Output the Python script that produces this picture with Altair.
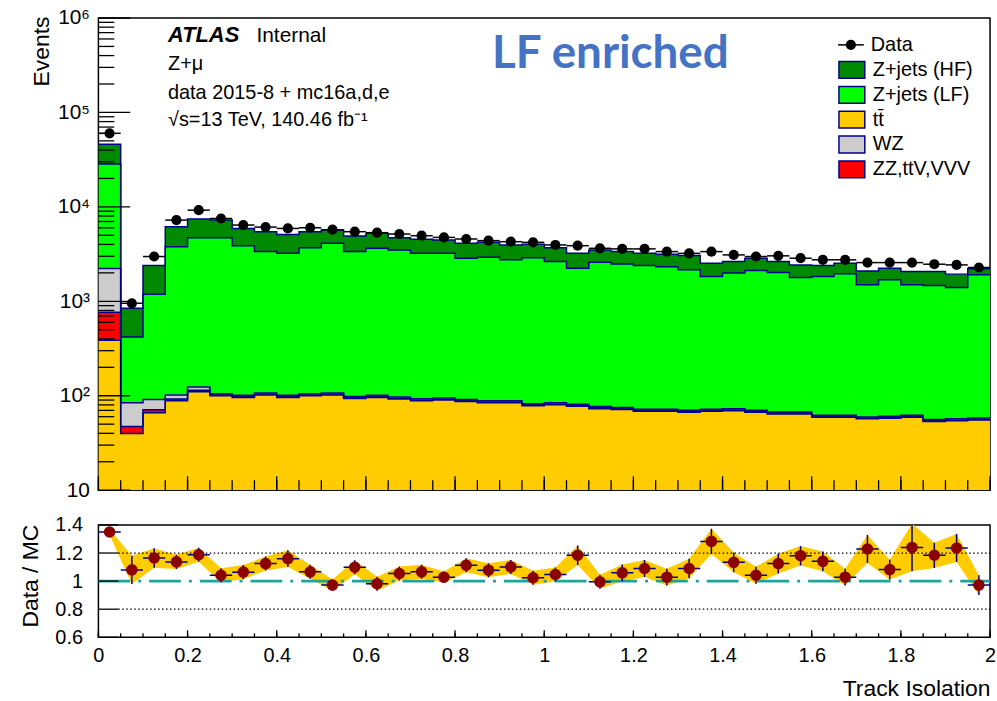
import altair as alt
import numpy as np
import pandas as pd

# ---------------- data ----------------
BIN_W = 0.05
N_BINS = 40

data_counts = [60100, 953, 2980, 7240, 9230, 7530, 6420, 6110, 5910, 6010,
               5730, 5460, 5330, 5160, 4950, 4750, 4570, 4390, 4280, 4210,
               3950, 3880, 3640, 3590, 3590, 3360, 3220, 3360, 3100, 2980,
               3030, 2860, 2750, 2750, 2570, 2570, 2570, 2470, 2430, 2280]

ttbar = [388, 39.8, 66.2, 88.6, 110, 100, 96, 102, 96, 100,
         102, 93.7, 96, 92.3, 88.6, 89.9, 87.1, 84.4, 84.4, 78.5,
         80.3, 77.4, 73, 71.4, 68.4, 68.4, 66.7, 68.4, 69.4, 66.7,
         64.2, 64.2, 59.1, 59.1, 56.9, 57.7, 59.1, 53.2, 54.4, 55.2]

zz_ttv_vvv = [378, 7.4, 4.8, 3.5, 4, 2, 2, 2, 2, 2,
              2, 1.9, 2, 1.8, 1.8, 1.8, 1.7, 1.7, 1.7, 1.6,
              1.6, 1.5, 1.5, 1.4, 1.4, 1.4, 1.3, 1.4, 1.4, 1.3,
              1.3, 1.3, 1.2, 1.2, 1.1, 1.2, 1.2, 1.1, 1.1, 1.1]

wz = [1454, 37.2, 20, 10, 10, 3, 3, 3, 3, 3,
      3, 2.8, 3, 2.8, 2.7, 2.7, 2.6, 2.5, 2.5, 2.4,
      2.4, 2.3, 2.2, 2.1, 2.1, 2.1, 2.0, 2.1, 2.1, 2.0,
      1.9, 1.9, 1.8, 1.8, 1.7, 1.7, 1.8, 1.6, 1.6, 1.7]

zjets_lf = [26180, 334, 1094, 3688, 4596, 4615, 3779, 3253, 3119, 3595,
            4003, 3261, 3539, 3403, 3127, 3126, 2769, 2841, 2661, 2818,
            2556, 2159, 2513, 2415, 2318, 2248, 2090, 1758, 1917, 2050,
            1953, 1723, 1768, 1898, 1440, 1629, 1438, 1414, 1343, 1852]

zjets_hf = [17600, 426, 1205, 2370, 2710, 2520, 2030, 2100, 1890, 1760,
            1580, 1560, 1600, 1220, 1310, 1240, 1250, 1280, 1200, 1110,
            1060, 980, 910, 870, 830, 830, 890, 700, 650, 740,
            620, 640, 560, 570, 600, 550, 570, 600, 540, 300]

ratio = [1.35, 1.08, 1.165, 1.137, 1.188, 1.042, 1.064, 1.125, 1.16, 1.066,
         0.972, 1.099, 0.981, 1.054, 1.066, 1.028, 1.113, 1.078, 1.101, 1.024,
         1.047, 1.184, 0.995, 1.059, 1.09, 1.028, 1.09, 1.283, 1.134, 1.042,
         1.125, 1.181, 1.141, 1.028, 1.229, 1.082, 1.24, 1.184, 1.236, 0.972]

ratio_err = [0.02, 0.1, 0.07, 0.05, 0.05, 0.05, 0.05, 0.05, 0.06, 0.05,
             0.04, 0.05, 0.05, 0.05, 0.05, 0.04, 0.05, 0.05, 0.05, 0.05,
             0.05, 0.07, 0.05, 0.06, 0.06, 0.06, 0.07, 0.09, 0.07, 0.06,
             0.07, 0.07, 0.07, 0.06, 0.1, 0.07, 0.17, 0.09, 0.1, 0.07]

legend_order = ["Z+jets (HF)", "Z+jets (LF)", "tt\u0304", "WZ", "ZZ,ttV,VVV"]
legend_colors = ["#008a00", "#00ff00", "#ffcc00", "#cccccc", "#ff0000"]

y_major = [10, 100, 1000, 1e4, 1e5, 1e6]
x_major = [round(0.2 * i, 1) for i in range(11)]
x_minor = [round(0.05 * i, 2) for i in range(41)]
r_major = [0.6, 0.8, 1.0, 1.2, 1.4]

# ---------------- derived tables ----------------
W_PLOT = 897
H_TOP = 475
H_BOT = 113
NAVY = "#00008b"
FONT = "Liberation Sans"

edges = [round(i * BIN_W, 4) for i in range(N_BINS + 1)]
lo = np.array(edges[:-1])
hi = np.array(edges[1:])
ctr = lo + BIN_W / 2

stack_order = [("tt\u0304", ttbar), ("ZZ,ttV,VVV", zz_ttv_vvv), ("WZ", wz),
               ("Z+jets (LF)", zjets_lf), ("Z+jets (HF)", zjets_hf)]
rows = []
cum = np.zeros(N_BINS)
for name, vals in stack_order:
    lower = cum.copy()
    cum = cum + np.asarray(vals, float)
    for i, e in enumerate(edges):
        j = min(i, N_BINS - 1)
        rows.append({"x": e, "y": float(cum[j]), "y2": float(max(lower[j], 10.0)), "comp": name})
stack_df = pd.DataFrame(rows)

data_df = pd.DataFrame({"x": ctr, "x2": hi, "xl": lo, "y": data_counts})

minor_y = [m * 10 ** k for k in range(1, 6) for m in range(2, 10)]

# ---------------- top panel ----------------
xs_top = alt.Scale(domain=[0, 2], nice=False, zero=False)
ys_top = alt.Scale(type="log", domain=[10, 1e6], nice=False)
sup = "['','','\u00b2','\u00b3','\u2074','\u2075','\u2076']"
y_axis_top = alt.Axis(values=y_major,
                      labelExpr="datum.value < 11 ? '10' : '10' + " + sup + "[round(log(datum.value)/LN10)]",
                      ticks=False, domain=False, grid=False, labelFontSize=21, labelPadding=9,
                      labelOverlap=False, title="Events", titleFontSize=23, titleFontWeight="normal",
                      titleAngle=270, titleAlign="right", titleBaseline="alphabetic",
                      titleX=-50, titleY=-2)


def YT(field="y"):
    return alt.Y(f"{field}:Q", scale=ys_top, axis=y_axis_top)


def XT(field="x"):
    return alt.X(f"{field}:Q", scale=xs_top, axis=None)


RECT_PATH = "M-1,-0.65H1V0.65H-1Z"

areas = alt.Chart(stack_df).mark_area(interpolate="step-after", opacity=1, clip=True).encode(
    x=XT(), y=alt.Y("y:Q", scale=ys_top, axis=y_axis_top, stack=None), y2="y2:Q",
    color=alt.Color("comp:N", scale=alt.Scale(domain=legend_order, range=legend_colors),
                    legend=alt.Legend(title=None, orient="none", legendX=744, legendY=41,
                                      symbolType=RECT_PATH, symbolSize=676,
                                      symbolStrokeColor=NAVY, symbolStrokeWidth=1.5,
                                      symbolOffset=0, padding=0, clipHeight=22.5, rowPadding=2,
                                      labelFont=FONT, labelFontSize=20, labelColor="black",
                                      labelOffset=7, labelLimit=300)),
)

outlines = alt.Chart(stack_df).mark_line(interpolate="step-after", color=NAVY, strokeWidth=1.5,
                                         clip=True).encode(
    x=XT(), y=alt.Y("y:Q", scale=ys_top, axis=y_axis_top, stack=None), detail="comp:N")

data_bars = alt.Chart(data_df).mark_rule(color="black", strokeWidth=1.5).encode(
    x=XT("xl"), x2="x2:Q", y=YT())

data_pts = alt.Chart(data_df).mark_point(filled=True, shape="circle", size=105, opacity=1,
                                         color="black").encode(x=XT(), y=YT())

ytick_major = alt.Chart(pd.DataFrame({"y": y_major})).mark_rule(color="black", strokeWidth=1.3).encode(
    y=YT(), x=alt.value(0), x2=alt.value(32))
ytick_minor = alt.Chart(pd.DataFrame({"y": minor_y})).mark_rule(color="black", strokeWidth=1.3).encode(
    y=YT(), x=alt.value(0), x2=alt.value(16))
xtick_top_minor = alt.Chart(pd.DataFrame({"x": x_minor})).mark_rule(color="black", strokeWidth=1.3).encode(
    x=XT(), y=alt.value(H_TOP), y2=alt.value(H_TOP - 10))
xtick_top_major = alt.Chart(pd.DataFrame({"x": x_major})).mark_rule(color="black", strokeWidth=1.3).encode(
    x=XT(), y=alt.value(H_TOP), y2=alt.value(H_TOP - 14))

one = pd.DataFrame({"k": [0]})


def label(text, x, y, size=20, weight="normal", style="normal", font=FONT, color="black",
          baseline="alphabetic"):
    return alt.Chart(one).mark_text(text=text, font=font, fontSize=size, fontWeight=weight,
                                    fontStyle=style, color=color, align="left",
                                    baseline=baseline).encode(x=alt.value(x), y=alt.value(y))


# manual "Data" legend entry (marker with horizontal bar)
LEG_Y = 27
leg_data_line = alt.Chart(one).mark_rule(color="black", strokeWidth=1.5).encode(
    x=alt.value(744), x2=alt.value(770), y=alt.value(LEG_Y))
leg_data_pt = alt.Chart(one).mark_point(filled=True, shape="circle", size=105, opacity=1,
                                        color="black").encode(x=alt.value(757), y=alt.value(LEG_Y))

texts = [
    label("ATLAS", 70, 24, size=22, weight="bold", style="italic"),
    label("Internal", 159, 24, size=21),
    label("Z+\u03bc", 70, 52),
    label("data 2015-8 + mc16a,d,e", 70, 81),
    label("\u221as=13 TeV, 140.46 fb\u207b\u00b9", 70, 109),
    label("LF enriched", 396, 50, size=46, weight="bold", font="Lato", color="#4472C4"),
    label("Data", 777, LEG_Y, baseline="middle"),
]

top = alt.layer(areas, outlines, ytick_minor, ytick_major, xtick_top_minor, xtick_top_major,
                data_bars, data_pts, leg_data_line, leg_data_pt, *texts
                ).properties(width=W_PLOT, height=H_TOP)

# ---------------- ratio panel ----------------
xs_bot = alt.Scale(domain=[0, 2], nice=False, zero=False)
ys_bot = alt.Scale(domain=[0.6, 1.4], nice=False, zero=False)
x_axis_bot = alt.Axis(values=x_major, format="~g", labelFlush=False, ticks=False, domain=False,
                      grid=False, labelFontSize=20, labelPadding=8, labelOverlap=False,
                      title="Track Isolation", titleFontSize=23, titleFontWeight="normal",
                      titleAlign="right", titleAnchor="end", titleX=W_PLOT, titleY=59,
                      titleBaseline="alphabetic")
y_axis_bot = alt.Axis(values=r_major, format="~g", ticks=False, domain=False, grid=False,
                      labelFontSize=20, labelPadding=16, labelOverlap=False,
                      title="Data / MC", titleFontSize=23, titleFontWeight="normal",
                      titleAngle=270, titleAlign="center", titleBaseline="alphabetic",
                      titleX=-61, titleY=51)


def XB(field="x"):
    return alt.X(f"{field}:Q", scale=xs_bot, axis=x_axis_bot)


def YB(field="y"):
    return alt.Y(f"{field}:Q", scale=ys_bot, axis=y_axis_bot)


r = np.asarray(ratio)
e = np.asarray(ratio_err)
ratio_df = pd.DataFrame({"x": ctr, "xl": lo, "x2": hi, "y": r, "ylo": r - e, "yhi": r + e})

band = alt.Chart(ratio_df).mark_area(color="#ffcc00", opacity=1, clip=True).encode(
    x=XB(), y=YB("ylo"), y2="yhi:Q")
dotted = alt.Chart(pd.DataFrame({"y": [0.8, 1.2]})).mark_rule(
    color="black", strokeWidth=1.3, strokeDash=[1.5, 2.5]).encode(y=YB(), x=alt.value(20), x2=alt.value(W_PLOT))
unity = alt.Chart(pd.DataFrame({"y": [1.0]})).mark_rule(
    color="#1fa39f", strokeWidth=3, strokeDash=[32, 8, 3, 8]).encode(y=YB(), x=alt.value(0), x2=alt.value(W_PLOT))
err_h = alt.Chart(ratio_df).mark_rule(color=NAVY, strokeWidth=1.5, clip=True).encode(
    x=XB("xl"), x2="x2:Q", y=YB())
err_v = alt.Chart(ratio_df).mark_rule(color=NAVY, strokeWidth=1.5, clip=True).encode(
    x=XB(), y=YB("ylo"), y2="yhi:Q")
markers = alt.Chart(ratio_df).mark_point(filled=True, shape="circle", size=135, opacity=1,
                                         color="#8b0000", clip=True).encode(x=XB(), y=YB())
rtick_y = alt.Chart(pd.DataFrame({"y": r_major})).mark_rule(color="black", strokeWidth=1.3).encode(
    y=YB(), x=alt.value(0), x2=alt.value(20))
rtick_xmin = alt.Chart(pd.DataFrame({"x": x_minor})).mark_rule(color="black", strokeWidth=1.3).encode(
    x=XB(), y=alt.value(H_BOT), y2=alt.value(H_BOT - 4))
rtick_xmaj = alt.Chart(pd.DataFrame({"x": x_major})).mark_rule(color="black", strokeWidth=1.3).encode(
    x=XB(), y=alt.value(H_BOT), y2=alt.value(H_BOT - 7))

bottom = alt.layer(band, dotted, unity, err_h, err_v, markers, rtick_y, rtick_xmin, rtick_xmaj
                   ).properties(width=W_PLOT, height=H_BOT)

chart = alt.vconcat(top, bottom, spacing=35, bounds="flush").resolve_legend(
    color="independent"
).configure(
    padding={"left": 19, "top": 4, "right": 0, "bottom": 0}, background="white"
).configure_view(
    stroke="black", strokeWidth=1.5
).configure_axis(
    labelFont=FONT, titleFont=FONT, labelColor="black", titleColor="black"
)

chart.save("out.html", embed_options={"renderer": "svg", "actions": False})
